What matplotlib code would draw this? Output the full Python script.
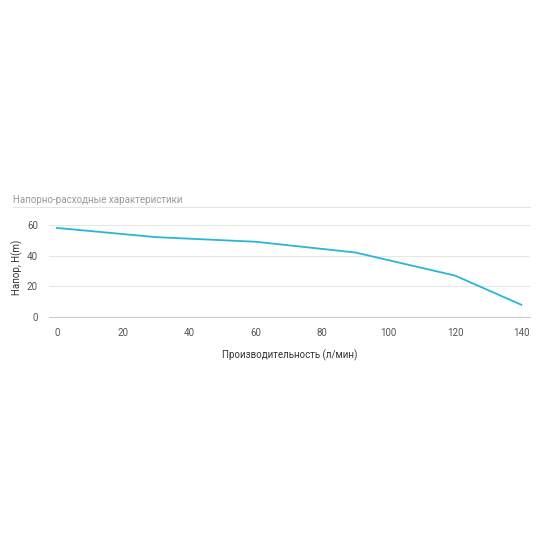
import matplotlib.pyplot as plt
from matplotlib.lines import Line2D

flow = [0, 30, 60, 90, 120, 140]
head = [58, 52, 49, 42, 27, 8]
xticks = [0, 20, 40, 60, 80, 100, 120, 140]
yticks = [0, 20, 40, 60]

plt.rcParams['font.family'] = ['Roboto', 'DejaVu Sans']
fig = plt.figure(figsize=(5.5, 5.5), dpi=100)
ax = fig.add_axes([0.089, 0.4236, 0.875, 0.1815])
ax.plot(flow, head, color="#29b6d8", lw=1.3)
ax.set_xlim(-2.4, 142.7)
ax.set_ylim(0, 65)
ax.set_xticks(xticks)
ax.set_yticks(yticks)
ax.grid(axis="y", color="#e6e6e6", lw=0.8)
ax.set_axisbelow(True)
for s in ["top", "right", "left"]:
    ax.spines[s].set_visible(False)
ax.spines["bottom"].set_color("#cccccc")
ax.tick_params(length=0, labelsize=7, colors="#555555", pad=8)
ax.set_xlabel("Производительность (л/мин)", fontsize=7, color="#333333", labelpad=8)
ax.set_ylabel("Напор, H(m)", fontsize=7, color="#333333", labelpad=3)

fig.text(13 / 550, 1 - 200 / 550, "Напорно-расходные характеристики", fontsize=7,
         color="#999999", va="center")
fig.add_artist(Line2D([13 / 550, 530 / 550], [1 - 207 / 550] * 2, color="#e6e6e6", lw=0.8))

fig.savefig("out.png", dpi=100)
